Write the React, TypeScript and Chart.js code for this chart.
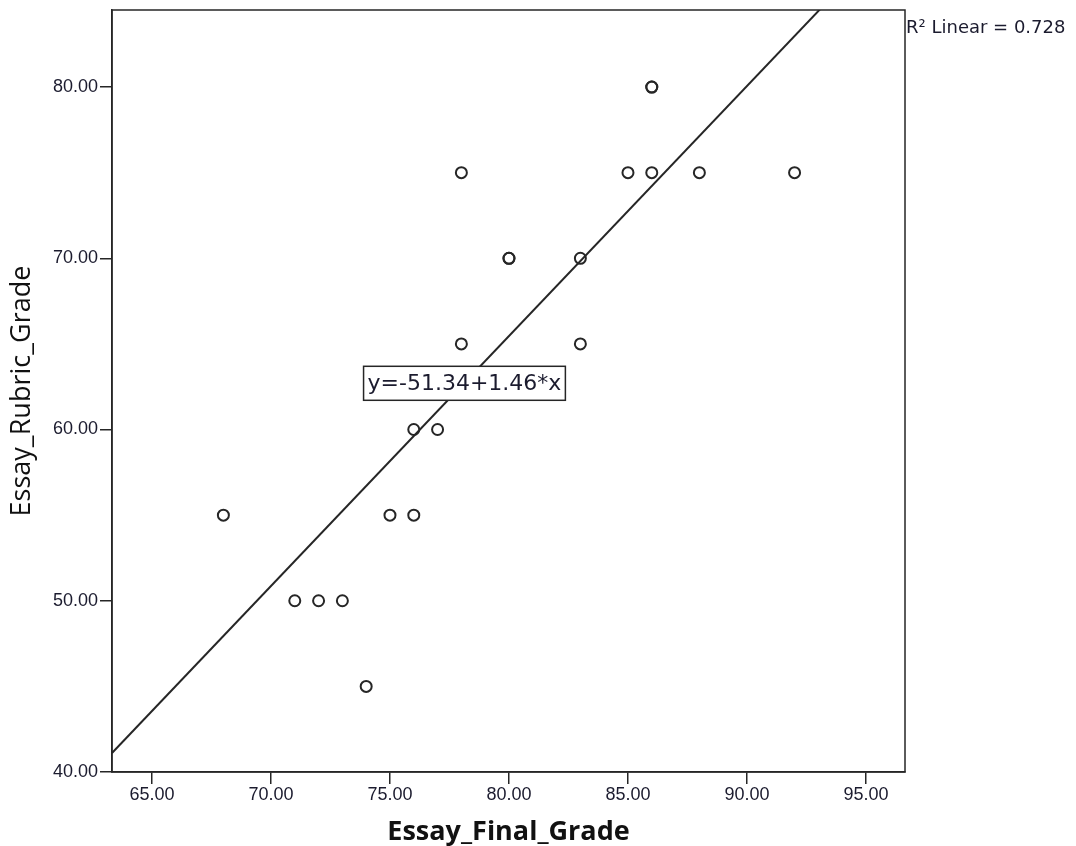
import React, { useEffect, useRef } from "react";
import { Chart, registerables } from "chart.js";

Chart.register(...registerables);

const finalGrade = [68, 71, 72, 73, 74, 75, 76, 76, 77, 78, 78, 80, 80, 83, 83, 85, 86, 86, 86, 88, 92];
const rubricGrade = [55, 50, 50, 50, 45, 55, 55, 60, 60, 65, 75, 70, 70, 70, 65, 75, 75, 80, 80, 75, 75];
const intercept = -51.34;
const slope = 1.46;
const xRange = [63.32, 96.64];
const yRange = [40, 84.5];
const equationText = "y=-51.34+1.46*x";
const equationAnchor = { x: 78.13, y: 62.7 };
const rSquaredText = "R\u00B2 Linear = 0.728";
const xTitle = "Essay_Final_Grade";
const yTitle = "Essay_Rubric_Grade";

const INK = "#262626";

const overlayPlugin = {
  id: "overlay",
  afterDatasetsDraw(chart: any) {
    const { ctx, scales } = chart;
    const px = scales.x.getPixelForValue(equationAnchor.x);
    const py = scales.y.getPixelForValue(equationAnchor.y);
    ctx.save();
    ctx.font = "22px 'DejaVu Sans'";
    const w = ctx.measureText(equationText).width + 8;
    const h = 34;
    ctx.fillStyle = "#ffffff";
    ctx.fillRect(px - w / 2, py - h / 2, w, h);
    ctx.strokeStyle = INK;
    ctx.lineWidth = 1.5;
    ctx.strokeRect(px - w / 2, py - h / 2, w, h);
    ctx.fillStyle = "#1b1b2e";
    ctx.textAlign = "center";
    ctx.textBaseline = "middle";
    ctx.fillText(equationText, px, py + 1);
    ctx.restore();
  },
  afterDraw(chart: any) {
    const { ctx, chartArea } = chart;
    ctx.save();
    ctx.strokeStyle = INK;
    ctx.lineWidth = 1.5;
    ctx.strokeRect(chartArea.left, chartArea.top, chartArea.right - chartArea.left, chartArea.bottom - chartArea.top);
    ctx.font = "18px 'DejaVu Sans'";
    ctx.fillStyle = "#1b1b2e";
    ctx.textAlign = "left";
    ctx.textBaseline = "middle";
    ctx.fillText(rSquaredText, chartArea.right + 1, 28);
    ctx.restore();
  },
};

export default function App() {
  const ref = useRef<HTMLCanvasElement | null>(null);
  useEffect(() => {
    if (!ref.current) return;
    const points = finalGrade.map((x, i) => ({ x, y: rubricGrade[i] }));
    const fitLine = xRange.map((x) => ({ x, y: intercept + slope * x }));
    const chart = new Chart(ref.current, {
      type: "scatter",
      data: {
        datasets: [
          {
            type: "line",
            data: fitLine,
            borderColor: INK,
            borderWidth: 2,
            pointRadius: 0,
            fill: false,
          } as any,
          {
            data: points,
            pointRadius: 5.5,
            pointBorderWidth: 2,
            borderColor: INK,
            backgroundColor: "rgba(0,0,0,0)",
            pointStyle: "circle",
          },
        ],
      },
      options: {
        responsive: false,
        animation: false,
        events: [],
        layout: { padding: { top: 10, right: 171, left: 0, bottom: 0 } },
        plugins: { legend: { display: false }, tooltip: { enabled: false } },
        scales: {
          x: {
            type: "linear",
            min: xRange[0],
            max: xRange[1],
            afterFit: (s: any) => {
              s.height = 74;
              s.paddingLeft = 0;
              s.paddingRight = 0;
            },
            ticks: {
              stepSize: 5,
              includeBounds: false,
              padding: 0,
              color: "#1b1b2e",
              font: { family: "'Liberation Sans'", size: 18 },
              callback: (v: any) => Number(v).toFixed(2),
            },
            grid: { drawOnChartArea: false, tickLength: 12, color: INK, lineWidth: 1.5 },
            border: { color: INK, width: 1.5 },
            title: {
              display: true,
              text: xTitle,
              color: "#111",
              font: { family: "'Open Sans'", size: 27, weight: "bold" },
              padding: { top: 0, bottom: -3 },
            },
          },
          y: {
            type: "linear",
            min: yRange[0],
            max: yRange[1],
            afterFit: (s: any) => {
              s.width = 112;
              s.paddingTop = 0;
              s.paddingBottom = 0;
            },
            ticks: {
              stepSize: 10,
              includeBounds: false,
              padding: 2,
              color: "#1b1b2e",
              font: { family: "'Liberation Sans'", size: 18 },
              callback: (v: any) => Number(v).toFixed(2),
            },
            grid: { drawOnChartArea: false, tickLength: 12, color: INK, lineWidth: 1.5 },
            border: { color: INK, width: 1.5 },
            title: {
              display: true,
              text: yTitle,
              color: "#111",
              font: { family: "'Open Sans'", size: 27, weight: "normal" },
              padding: { top: 6, bottom: 0 },
            },
          },
        },
      },
      plugins: [overlayPlugin],
    });
    return () => chart.destroy();
  }, []);
  return (
    <canvas
      ref={ref}
      width={1076}
      height={846}
      style={{ position: "absolute", left: 0, top: 0, display: "block" }}
    />
  );
}
